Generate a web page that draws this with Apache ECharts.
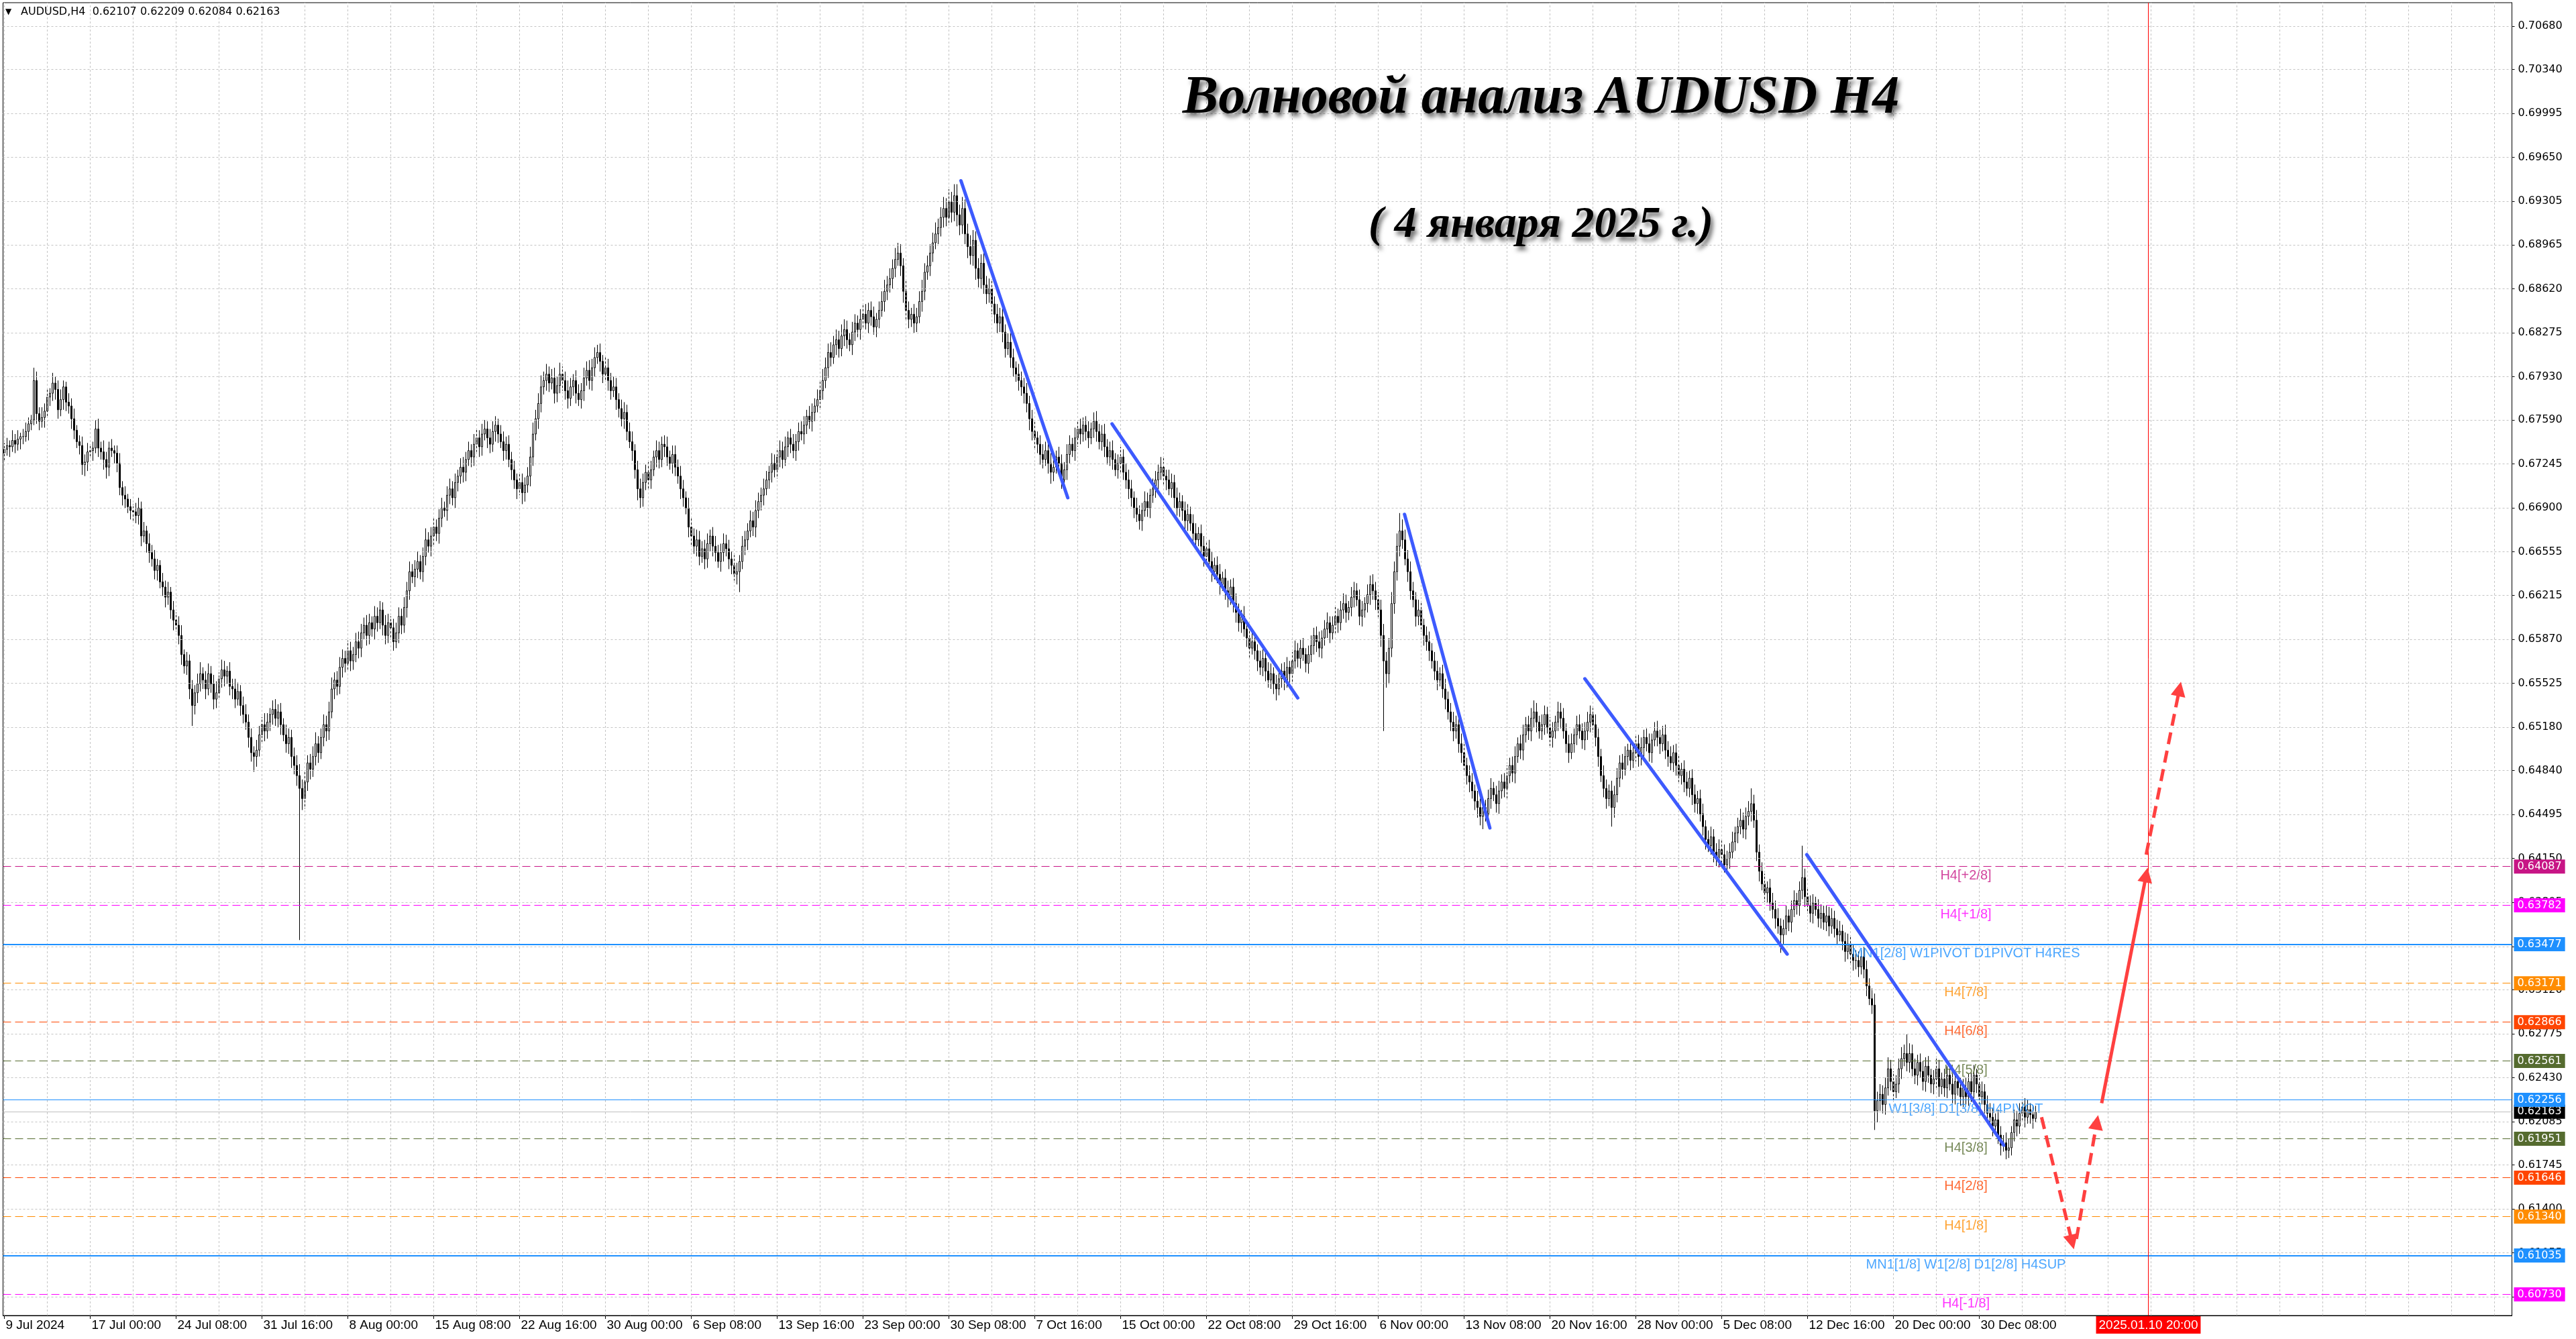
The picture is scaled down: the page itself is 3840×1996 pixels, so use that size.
<!DOCTYPE html>
<html><head><meta charset="utf-8">
<script src="https://cdn.jsdelivr.net/npm/echarts@6/dist/echarts.min.js"></script>
<style>html,body{margin:0;padding:0;background:#fff}#c{width:3840px;height:1996px}</style>
</head><body><div id="c"></div>
<script>
// ---------------- DATA ----------------
const firstOpen = 6733; // pips (x1e-4)
const closePips = [
6736,6739,6738,6743,6740,6744,6746,6746,6750,6756,
6759,6790,6764,6758,6761,6766,6777,6780,6788,6783,
6767,6775,6785,6773,6770,6760,6751,6742,6739,6724,
6726,6734,6735,6737,6752,6737,6734,6728,6722,6737,
6735,6733,6725,6706,6700,6697,6691,6688,6687,6684,
6690,6668,6672,6662,6655,6650,6641,6645,6632,6628,
6620,6624,6610,6602,6598,6590,6575,6566,6570,6548,
6535,6545,6552,6560,6555,6548,6560,6552,6540,6545,
6556,6563,6558,6562,6550,6548,6540,6546,6535,6528,
6522,6510,6498,6495,6500,6512,6520,6515,6522,6528,
6532,6525,6530,6520,6512,6505,6510,6495,6488,6480,
6470,6462,6475,6490,6485,6495,6505,6498,6510,6520,
6515,6530,6548,6555,6550,6565,6572,6568,6578,6570,
6575,6585,6580,6592,6598,6590,6600,6595,6605,6600,
6610,6598,6590,6600,6596,6585,6592,6605,6598,6612,
6625,6640,6636,6642,6648,6640,6652,6665,6660,6668,
6675,6670,6682,6690,6688,6700,6705,6698,6710,6715,
6722,6718,6728,6735,6730,6740,6745,6738,6748,6752,
6745,6740,6750,6755,6748,6742,6735,6740,6728,6720,
6712,6705,6710,6702,6708,6715,6730,6748,6760,6772,
6785,6790,6795,6788,6792,6780,6786,6795,6790,6782,
6776,6785,6790,6780,6775,6782,6792,6798,6790,6800,
6808,6812,6805,6795,6800,6790,6782,6785,6775,6768,
6760,6765,6750,6742,6735,6720,6705,6698,6710,6718,
6712,6720,6730,6735,6728,6740,6738,6730,6725,6732,
6722,6715,6705,6698,6690,6675,6668,6660,6665,6652,
6658,6650,6662,6668,6660,6655,6648,6655,6662,6658,
6650,6645,6638,6640,6648,6660,6665,6672,6680,6675,
6688,6695,6700,6705,6712,6718,6725,6720,6730,6735,
6728,6738,6745,6740,6735,6742,6750,6748,6755,6762,
6758,6765,6770,6775,6782,6790,6800,6812,6808,6818,
6822,6815,6825,6830,6822,6818,6828,6835,6830,6838,
6842,6835,6845,6840,6832,6838,6845,6852,6860,6865,
6870,6878,6885,6890,6880,6860,6845,6838,6842,6835,
6840,6852,6860,6875,6880,6890,6898,6905,6910,6918,
6925,6918,6930,6922,6935,6920,6912,6925,6905,6895,
6888,6900,6878,6870,6882,6865,6858,6862,6850,6842,
6835,6840,6828,6815,6820,6808,6800,6795,6790,6785,
6780,6772,6760,6750,6745,6740,6732,6728,6735,6725,
6718,6722,6730,6725,6712,6720,6732,6740,6735,6745,
6752,6748,6755,6750,6745,6752,6758,6750,6742,6748,
6738,6730,6735,6728,6720,6725,6730,6718,6712,6705,
6698,6690,6685,6680,6688,6695,6690,6700,6705,6712,
6718,6722,6715,6712,6705,6710,6698,6690,6695,6688,
6680,6685,6678,6670,6665,6670,6660,6652,6658,6648,
6640,6645,6638,6630,6635,6625,6620,6628,6615,6608,
6600,6605,6595,6588,6580,6585,6578,6570,6565,6572,
6562,6555,6560,6552,6548,6556,6562,6555,6565,6560,
6570,6578,6572,6580,6575,6568,6575,6582,6590,6585,
6580,6588,6595,6600,6592,6598,6605,6600,6610,6615,
6608,6612,6620,6625,6618,6605,6610,6615,6622,6630,
6625,6618,6610,6590,6570,6560,6580,6615,6640,6660,
6672,6665,6650,6640,6625,6618,6605,6610,6598,6590,
6585,6578,6570,6562,6555,6560,6548,6540,6530,6522,
6515,6520,6505,6498,6488,6480,6475,6468,6460,6455,
6448,6455,6450,6462,6470,6465,6458,6468,6475,6470,
6480,6488,6482,6495,6505,6500,6512,6520,6515,6525,
6530,6522,6515,6520,6528,6518,6510,6515,6522,6530,
6525,6515,6505,6498,6505,6512,6520,6515,6508,6515,
6522,6528,6520,6510,6495,6480,6470,6462,6468,6455,
6465,6478,6490,6485,6495,6500,6492,6498,6505,6495,
6502,6510,6505,6498,6508,6515,6510,6505,6512,6500,
6495,6490,6498,6488,6480,6485,6475,6470,6478,6465,
6458,6462,6450,6440,6430,6425,6432,6420,6415,6422,
6418,6410,6415,6420,6428,6435,6440,6445,6438,6448,
6452,6458,6445,6420,6405,6395,6388,6392,6380,6375,
6368,6362,6355,6360,6370,6365,6375,6382,6378,6390,
6400,6385,6378,6372,6380,6375,6368,6372,6365,6370,
6362,6368,6360,6355,6358,6350,6342,6348,6340,6335,
6335,6330,6338,6328,6315,6305,6300,6217,6225,6230,
6222,6235,6250,6240,6232,6238,6250,6258,6262,6255,
6262,6250,6245,6255,6248,6240,6252,6245,6238,6242,
6250,6236,6242,6235,6245,6238,6230,6240,6235,6228,
6235,6228,6240,6232,6245,6238,6228,6232,6222,6215,
6212,6205,6210,6198,6190,6192,6186,6188,6200,6210,
6205,6215,6220,6212,6218,6214,6211,6216
];
const upWick = [
5,6,4,8,5,7,3,6,7,5, 4,10,7,5,8,6,7,4,8,5, 7,8,5,4,7,6,8,4,5,7, 6,7,4,5,7,8,5,9,6,5,
7,4,6,8,5,7,4,6,5,7, 8,5,7,4,8,6,7,5,4,7, 5,8,4,7,6,7,8,4,7,5, 7,6,8,9,5,7,8,6,7,9,
5,8,7,4,7,6,8,7,5,7, 8,6,7,5,8,7,6,9,7,5, 7,8,6,7,5,8,7,6,7,8, 9,7,8,6,7,8,9,6,7,8,
7,8,9,6,7,8,7,6,8,7, 6,7,8,7,6,8,7,5,8,7, 7,6,8,7,5,7,8,7,6,8, 7,8,6,7,8,5,7,9,6,7,
8,6,7,8,5,7,8,6,7,5, 7,8,6,7,5,8,7,6,8,7, 6,7,8,7,5,7,8,6,7,6, 7,5,8,7,6,7,8,9,7,8,
9,7,8,6,7,8,7,9,6,7, 8,7,5,8,7,6,8,7,8,7, 8,6,7,5,8,7,6,8,7,5, 7,8,6,7,8,5,7,8,7,6,
8,7,5,8,7,6,7,8,5,7, 7,6,8,7,5,8,7,6,8,7, 6,7,8,5,7,8,6,7,8,7, 7,6,8,7,5,8,7,6,8,7,
8,7,6,8,7,5,8,7,6,8, 7,8,5,7,8,6,7,8,7,5, 8,7,6,8,7,9,8,7,8,7, 8,7,9,8,7,5,8,7,6,8,
7,8,6,7,8,5,7,8,9,7, 8,7,9,8,7,6,8,7,5,8, 7,8,9,7,8,7,8,9,7,8, 9,8,10,8,9,9,8,9,7,8,
9,8,7,8,7,8,7,8,7,6, 8,7,8,6,7,8,7,5,8,7, 7,8,6,7,8,5,7,8,7,6, 8,7,5,8,7,6,8,7,5,8,
7,8,6,7,8,5,7,8,6,7, 8,6,7,8,5,7,8,6,7,8, 7,5,8,7,6,8,7,5,8,7, 6,8,7,5,8,7,6,8,7,5,
7,8,6,7,8,5,7,8,6,7, 8,6,7,8,5,7,8,6,7,8, 7,5,8,7,6,8,7,5,8,7, 6,7,8,5,7,8,6,7,8,5,
7,8,6,7,8,5,7,8,6,7, 8,6,7,8,5,7,8,6,7,8, 7,5,8,7,6,8,7,5,8,7, 8,7,6,8,9,7,8,9,8,10,
14,9,8,7,8,7,6,8,7,5, 7,8,6,7,8,5,7,8,6,7, 8,7,5,8,7,6,8,7,5,8, 7,8,6,7,8,5,7,8,6,7,
8,6,7,8,5,7,8,6,7,8, 9,7,5,8,7,6,8,7,5,8, 7,8,6,7,8,5,7,8,6,7, 8,7,5,8,7,6,8,7,5,8,
7,8,6,7,8,5,7,8,6,7, 8,6,7,8,5,7,8,6,7,8, 7,8,6,7,8,5,7,8,6,7, 8,6,7,8,5,7,8,6,7,8,
7,8,6,7,8,5,7,9,6,7, 8,12,7,8,6,7,8,5,7,8, 7,8,6,7,8,5,7,8,6,7, 25,7,6,8,7,5,8,7,6,8,
7,8,6,7,8,5,7,8,6,7, 8,7,5,8,7,6,8,9,7,8, 7,8,9,7,8,7,8,9,7,15, 8,7,8,6,7,8,7,8,5,7,
8,7,5,8,7,6,8,7,5,8, 7,8,6,7,8,5,7,8,6,7, 8,7,5,8,7,6,8,7,5,8, 7,8,6,7,8,5,7,5
];
const downWick = [
7,5,8,4,7,5,8,6,4,7, 5,4,8,7,5,8,4,7,6,8, 7,5,8,7,6,8,7,5,7,8, 9,7,5,8,4,7,6,8,9,7,
5,8,7,6,8,7,5,7,8,6, 7,8,5,7,8,6,7,8,5,7, 8,6,7,8,5,7,8,6,7,8, 16,7,8,6,7,8,5,7,8,7,
5,7,8,6,7,8,7,5,8,7, 6,8,7,12,8,5,7,8,6,7, 8,6,7,8,5,7,8,9,7,8, 119,9,8,7,8,6,7,8,5,7,
8,7,5,8,7,6,8,7,5,8, 7,6,8,7,5,8,7,6,8,7, 5,8,7,6,8,7,5,8,7,6, 8,7,5,8,7,6,8,7,5,8,
7,6,8,7,5,8,7,6,8,7, 6,8,7,5,8,7,6,8,7,5, 8,7,6,8,7,5,8,7,6,8, 7,8,5,9,7,6,8,7,5,8,
7,6,8,7,5,8,7,6,8,7, 8,6,7,8,5,7,8,6,7,8, 7,5,8,7,6,8,7,5,8,7, 6,8,7,5,8,7,9,8,7,6,
8,7,5,8,7,6,8,7,5,8, 7,6,8,7,5,8,7,6,8,7, 5,8,7,6,8,7,5,8,7,6, 8,7,5,8,16,6,7,8,5,7,
8,6,7,8,5,7,8,6,7,8, 7,5,8,7,6,8,7,5,8,7, 6,8,7,5,8,7,6,8,7,5, 8,7,6,8,7,5,8,7,6,8,
7,5,8,7,6,8,7,5,8,7, 6,8,7,5,8,9,8,7,6,8, 7,5,8,7,6,8,7,5,8,7, 8,7,6,8,7,9,8,7,8,9,
7,8,9,7,8,7,8,7,8,7, 8,7,8,7,5,8,7,6,8,7, 8,7,9,7,8,7,8,7,5,8, 9,7,5,8,7,6,8,7,5,8,
7,8,6,7,8,5,7,8,6,7, 8,6,7,8,5,7,8,6,7,8, 7,8,6,7,8,5,7,8,6,7, 8,6,7,8,5,7,8,6,7,8,
7,8,6,7,8,5,7,8,6,7, 8,6,7,8,5,7,8,6,7,8, 7,8,6,7,8,5,7,8,6,7, 8,6,7,8,9,5,7,8,6,7,
8,6,7,8,5,7,8,6,7,8, 7,8,6,7,8,5,7,8,6,7, 8,6,7,8,5,7,8,6,7,8, 7,8,6,9,55,11,8,7,8,7,
8,7,5,8,7,6,8,7,5,8, 7,8,6,7,8,5,7,8,6,7, 8,6,7,8,5,7,8,6,7,8, 7,10,6,7,8,5,7,8,6,7,
8,6,7,8,5,7,8,6,7,8, 7,8,6,7,8,5,7,8,6,7, 8,6,7,8,5,7,8,6,7,8, 7,8,6,7,8,5,7,8,6,15,
8,6,7,8,5,7,8,6,7,8, 7,8,6,7,8,5,7,8,6,7, 8,6,7,8,5,7,8,6,7,8, 7,8,6,7,8,5,7,8,6,7,
8,6,7,8,5,7,8,6,7,8, 7,8,6,7,8,5,7,8,6,7, 8,6,14,8,5,7,8,6,7,8, 7,8,6,7,8,5,7,8,6,7,
8,6,7,8,5,7,8,6,7,8, 7,8,6,7,8,5,7,15,9,8, 7,8,6,7,8,5,7,8,6,7, 8,6,7,8,5,7,8,6,7,8,
7,8,6,7,8,5,7,8,6,7, 8,6,7,8,5,7,8,6,7,8, 7,8,6,7,8,5,7,6,6,7, 8,6,7,8,5,7,8,3
];
const totalBars = 935; // real bars + chart shift
const xLabelBars = [0,32,64,96,128,160,192,224,256,288,320,352,384,416,448,480,512,544,576,608,640,672,704,736];
const xLabelText = ['9 Jul 2024','17 Jul 00:00','24 Jul 08:00','31 Jul 16:00','8 Aug 00:00','15 Aug 08:00','22 Aug 16:00','30 Aug 00:00','6 Sep 08:00','13 Sep 16:00','23 Sep 00:00','30 Sep 08:00','7 Oct 16:00','15 Oct 00:00','22 Oct 08:00','29 Oct 16:00','6 Nov 00:00','13 Nov 08:00','20 Nov 16:00','28 Nov 00:00','5 Dec 08:00','12 Dec 16:00','20 Dec 00:00','30 Dec 08:00'];
const yTicks = [0.70680,0.70340,0.69995,0.69650,0.69305,0.68965,0.68620,0.68275,0.67930,0.67590,0.67245,0.66900,0.66555,0.66215,0.65870,0.65525,0.65180,0.64840,0.64495,0.64150,0.63805,0.63460,0.63120,0.62775,0.62430,0.62085,0.61745,0.61400,0.61055,0.60710];
const yMin = 0.605642, yMax = 0.708642;
const levelPrices = [0.64087,0.63782,0.63477,0.63171,0.62866,0.62561,0.62256,0.61951,0.61646,0.61340,0.61035,0.60730];
const levelNames = ['H4[+2/8]','H4[+1/8]','MN1[2/8] W1PIVOT D1PIVOT H4RES','H4[7/8]','H4[6/8]','H4[5/8]','W1[3/8] D1[3/8] H4PIVOT','H4[3/8]','H4[2/8]','H4[1/8]','MN1[1/8] W1[2/8] D1[2/8] H4SUP','H4[-1/8]'];
const headerSymbol = 'AUDUSD,H4';
const headerOHLC = [0.62107,0.62209,0.62084,0.62163];
const currentPrice = 0.62163;
// wave lines: [bar1, price1, bar2, price2]
const waveLines = [
  [356.5,0.69467,396.3,0.66980],
  [412.8,0.67560,482.0,0.65410],
  [521.8,0.66850,553.6,0.64390],
  [589.0,0.65560,664.4,0.63400],
  [671.7,0.64180,745.1,0.61900]
];
const forecastDashed = [
  [759.2,0.62120,770.6,0.61140],
  [772.2,0.61165,779.8,0.62080],
  [798.2,0.64180,810.6,0.65480]
];
const forecastSolid = [[781.6,0.62230,798.2,0.64020]];
const markerBar = 799;
const markerText = '2025.01.10 20:00';
const titleText = 'Волновой анализ AUDUSD H4';
const subtitleText = '( 4 января 2025 г.)';

// ---------------- STYLE ----------------
const levelColors = ['#C71585','#FF00FF','#1E90FF','#FF8C00','#FF4500','#556B2F','#1E90FF','#556B2F','#FF4500','#FF8C00','#1E90FF','#FF00FF'];
const levelSolid  = [false,false,true,false,false,false,true,false,false,false,true,false];
const levelWidth  = [1,1,2,1,1,1,1,1,1,1,2,1];
const levelTextBar = 731;
const gridStep = 16;

// ---------------- BUILD ----------------
const candles = closePips.map((c,i)=>{
  const o = i===0 ? firstOpen : closePips[i-1];
  const hi = Math.max(o,c) + (upWick[i]||0);
  const lo = Math.min(o,c) - (downWick[i]||0);
  return [o/1e4, c/1e4, lo/1e4, hi/1e4];
});
const cats = Array.from({length: totalBars}, (_, i) => String(i));
const labelMap = {};
xLabelBars.forEach((b,i)=>labelMap[b]=xLabelText[i]);
const vGrid = [];
for (let b=0; b<totalBars; b+=gridStep) vGrid.push(b);

const chart = echarts.init(document.getElementById('c'), null, {renderer:'canvas', devicePixelRatio:1});
const pair = (a, extra) => [{coord:[a[0],a[1]], ...(extra||{})},{coord:[a[2],a[3]]}];

const option = {
  animation:false,
  backgroundColor:'#ffffff',
  grid:{left:4.5,right:95.5,top:4,bottom:35,show:true,borderColor:'#000',borderWidth:1,backgroundColor:'#fff',containLabel:false,outerBoundsMode:'none'},
  xAxis:[
    {type:'category',data:cats,boundaryGap:true,
     axisLine:{show:true,lineStyle:{color:'#000',width:1}},
     axisTick:{show:true,alignWithLabel:true,length:5,interval:(i)=>labelMap[i]!==undefined,lineStyle:{color:'#000'}},
     axisLabel:{show:true,interval:(i)=>labelMap[i]!==undefined,formatter:(v,i)=>labelMap[i]||'',align:'left',padding:[0,0,0,2],
       color:'#000',fontFamily:'"Liberation Sans", Arial, sans-serif',fontSize:19,margin:5},
     splitLine:{show:false}},
    {type:'value',min:-0.5,max:totalBars-0.5,show:false}
  ],
  yAxis:{type:'value',position:'right',min:yMin,max:yMax,scale:true,
    axisLine:{show:true,onZero:false,lineStyle:{color:'#000',width:1}},
    axisTick:{show:true,customValues:yTicks,length:4,lineStyle:{color:'#000'}},
    axisLabel:{show:true,customValues:yTicks,formatter:(v)=>v.toFixed(5),color:'#000',fontFamily:'"DejaVu Sans", Verdana, sans-serif',fontSize:16,margin:9},
    splitLine:{show:false}},
  graphic:[
    {type:'text',x:8,y:12,z:100,style:{text:'▼',font:'12px "DejaVu Sans"',fill:'#000'}},
    {type:'text',x:31,y:10,z:100,style:{text:headerSymbol+'  '+headerOHLC.map(v=>v.toFixed(5)).join(' '),font:'16px "DejaVu Sans"',fill:'#000'}},
    {type:'text',x:2297,y:147,z:100,style:{text:titleText,font:'italic bold 80px "Liberation Serif"',fill:'#000',align:'center',verticalAlign:'middle',textAlign:'center',textVerticalAlign:'middle',
      textShadowColor:'rgba(0,0,0,0.55)',textShadowBlur:6,textShadowOffsetX:4,textShadowOffsetY:6}},
    {type:'text',x:2297,y:336,z:100,style:{text:subtitleText,font:'italic bold 66px "Liberation Serif"',fill:'#000',align:'center',verticalAlign:'middle',textAlign:'center',textVerticalAlign:'middle',
      textShadowColor:'rgba(0,0,0,0.55)',textShadowBlur:6,textShadowOffsetX:4,textShadowOffsetY:6}}
  ],
  series:[
    {name:'grid',type:'line',xAxisIndex:1,data:[],z:1,silent:true,
     markLine:{silent:true,animation:false,symbol:'none',precision:6,label:{show:false},
       lineStyle:{color:'#c4c4c4',type:[3,3],width:1},
       data:[...yTicks.map(v=>({yAxis:v})),...vGrid.map(v=>({xAxis:v}))]}},
    {name:'AUDUSD',type:'candlestick',xAxisIndex:0,data:candles,barWidth:2,z:2,large:false,progressive:0,
     itemStyle:{color:'#ffffff',color0:'#000000',borderColor:'#000000',borderColor0:'#000000',borderWidth:1}},
    {name:'levels',type:'line',xAxisIndex:1,data:[],z:3,silent:true,
     markLine:{silent:true,animation:false,symbol:'none',precision:6,
       data:[{yAxis:currentPrice,lineStyle:{color:'#c0c0c0',width:1,type:'solid'},
              label:{show:true,position:'end',distance:3,formatter:currentPrice.toFixed(5),backgroundColor:'#000',color:'#fff',padding:[3,5,2,5],fontSize:16,fontFamily:'"DejaVu Sans"'}},
         ...levelPrices.map((p,i)=>({yAxis:p,
           lineStyle:{color:levelColors[i],width:levelWidth[i],type:levelSolid[i]?'solid':[12,6]},
           label:{show:true,position:'end',distance:3,formatter:p.toFixed(5),backgroundColor:levelColors[i],color:'#fff',padding:[3,5,2,5],fontSize:16,fontFamily:'"DejaVu Sans"'}}))]}},
    {name:'levelText',type:'scatter',xAxisIndex:1,z:4,silent:true,symbolSize:1,itemStyle:{color:'rgba(0,0,0,0)'},
     data:levelPrices.map((p,i)=>({value:[levelTextBar,p],name:levelNames[i],
       label:{show:true,position:'bottom',distance:3,formatter:'{b}',color:levelColors[i],fontSize:20,fontFamily:'"Liberation Sans", Arial'}}))},
    {name:'waves',type:'line',xAxisIndex:1,data:[],z:5,silent:true,
     markLine:{silent:true,animation:false,symbol:'none',precision:6,label:{show:false},
       lineStyle:{color:'#3D5AFE',width:5,type:'solid',cap:'round'},
       data:waveLines.map(w=>pair(w))}},
    {name:'marker',type:'line',xAxisIndex:1,data:[],z:6,silent:true,
     markLine:{silent:true,animation:false,symbol:'none',precision:6,
       data:[{xAxis:markerBar,lineStyle:{color:'#ff0000',width:1,type:'solid'},
         label:{show:true,position:'start',distance:1,formatter:markerText,backgroundColor:'#ff0000',color:'#fff',padding:[4,4,3,4],fontSize:19,fontFamily:'"Liberation Sans", Arial'}}]}},
    {name:'forecast',type:'line',xAxisIndex:1,data:[],z:7,silent:true,
     markLine:{silent:true,animation:false,symbol:['none','triangle'],symbolSize:22,precision:6,label:{show:false},
       data:[...forecastDashed.map(f=>pair(f,{lineStyle:{color:'#FF4040',width:5,type:[18,10]}})),
             ...forecastSolid.map(f=>pair(f,{lineStyle:{color:'#FF4040',width:5,type:'solid'}}))],
       lineStyle:{color:'#FF4040',width:5}, itemStyle:{color:'#FF4040'}}}
  ]
};
chart.setOption(option);
</script>
</body></html>
